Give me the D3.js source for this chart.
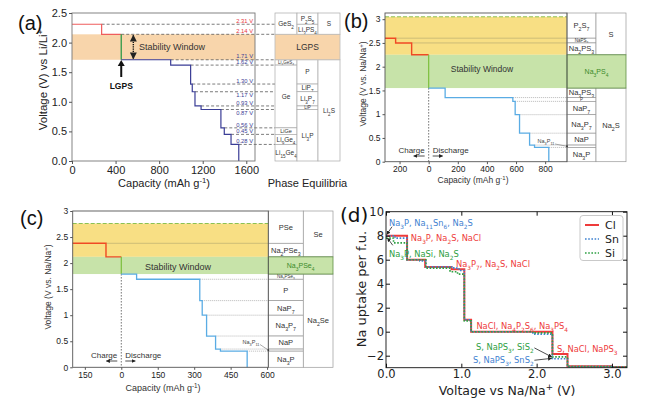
<!DOCTYPE html>
<html>
<head>
<meta charset="utf-8">
<script src="https://cdn.jsdelivr.net/npm/d3@7"></script>
<style>
body { margin: 0; background: #fff; }
svg { display: block; }
</style>
</head>
<body>
<svg id="fig" width="653" height="398"></svg>
<script>
var svg = d3.select("#fig");
var SANS = "Liberation Sans, Arial, sans-serif";
var DEJA = "DejaVu Sans, sans-serif";

// ---------- data: (a) LGPS vs Li ----------
var aRedCap = [0, 272, 452];
var aRedV = [2.31, 2.14];
var aBlueCap = [452, 906, 1089, 1104, 1129, 1185, 1367, 1398, 1460, 1531];
var aBlueV = [1.71, 1.62, 1.30, 1.17, 0.93, 0.87, 0.56, 0.45, 0.28];
var aWindow = [1.71, 2.14];
var aXTicks = [0, 400, 800, 1200, 1600];
var aYTicks = [0, 0.5, 1.0, 1.5, 2.0, 2.5];
// voltage labels that sit under their line
var aLabelsBelow = [1.17, 0.87];
// table columns: null = stability band row
var aGeCuts = [2.14, 1.71, 1.62, 0.56, 0.45, 0.28];
var aGeNames = ["GeS_2", null, "Li_4GeS_4", "Ge", "LiGe", "Li_9Ge_4", "Li_{15}Ge_4"];
var aPCuts = [2.31, 2.14, 1.71, 1.30, 1.17, 0.93, 0.87];
var aPNames = ["P_2S_5", "Li_3PS_4", null, "P", "LiP_7", "Li_3P_7", "LiP", "Li_3P"];
var aSCuts = [2.14, 1.71];
var aSNames = ["S", null, "Li_2S"];

// ---------- data: (b) Na3PS4 ----------
var bRedCap = [-300, -227, -117, 0];
var bRedV = [2.6, 2.5, 2.25];
var bBlueCap = [0, 113, 578, 594, 624, 693, 727, 825];
var bBlueV = [1.55, 1.35, 1.27, 0.99, 0.6, 0.35, 0.30];
var bYellow = [2.25, 3.05];
var bGreen = [1.55, 2.25];
var bXTicks = [-200, 0, 200, 400, 600, 800];
var bYTicks = [0, 0.5, 1, 1.5, 2, 2.5, 3];
var bPCuts = [2.6, 2.5, 2.25, 1.55, 1.35, 1.27, 0.99, 0.6, 0.35, 0.30];
var bPNames = ["P_2S_7", "NaPS_3", "Na_2PS_3", null, "Na_3PS_3", "P", "NaP_7", "Na_3P_7", "NaP", "", "Na_3P"];
var bSCuts = [2.25, 1.55];
var bSNames = ["S", null, "Na_2S"];

// ---------- data: (c) Na3PSe4 ----------
var cRedCap = [-200, -63, 0];
var cRedV = [2.38, 2.12];
var cBlueCap = [0, 63, 323, 333, 351, 388, 408, 518];
var cBlueV = [1.79, 1.69, 1.28, 1.0, 0.6, 0.35, 0.31];
var cYellow = [2.12, 2.76];
var cGreen = [1.79, 2.12];
var cXTicks = [-150, 0, 150, 300, 450, 600];
var cYTicks = [0, 0.5, 1, 1.5, 2, 2.5, 3];
var cPCuts = [2.38, 2.12, 1.79, 1.69, 1.28, 1.0, 0.6, 0.35, 0.31];
var cPNames = ["PSe", "Na_2PSe_3", null, "Na_3PSe_3", "P", "NaP_7", "Na_3P_7", "NaP", "", "Na_3P"];
var cSeCuts = [2.12, 1.79];
var cSeNames = ["Se", null, "Na_2Se"];

// ---------- data: (d) Na uptake ----------
var dClV = [0, 0.28, 0.52, 0.87, 1.04, 1.13, 2.21, 2.41, 3.0, 3.2];
var dClN = [8.0, 6.0, 5.4, 5.2, 1.0, 0.0, -1.85, -2.88, -2.95];
var dSnV = [0, 0.12, 0.28, 0.45, 0.53, 0.9, 0.97, 1.04, 1.13, 1.95, 2.21, 2.41, 3.0, 3.2];
var dSnN = [8.0, 7.8, 6.0, 5.9, 5.4, 5.3, 5.1, 1.0, 0.0, -0.2, -2.25, -2.9, -2.95];
var dSiV = [0, 0.1, 0.28, 0.53, 0.85, 0.95, 1.04, 1.13, 1.95, 2.21, 2.41, 3.0, 3.2];
var dSiN = [7.8, 7.4, 6.0, 5.3, 5.0, 4.8, 0.9, 0.0, -0.1, -2.1, -2.9, -2.95];
var dNames = ["Cl", "Sn", "Si"];
var dXTicks = [0, 1, 2, 3];
var dYTicks = [-2, 0, 2, 4, 6, 8, 10];

// ---------- helpers ----------
var defs = svg.append("defs");
defs.append("marker").attr("id", "ah").attr("viewBox", "0 0 10 10")
  .attr("refX", 9).attr("refY", 5).attr("markerWidth", 5).attr("markerHeight", 5)
  .attr("orient", "auto-start-reverse")
  .append("path").attr("d", "M0,0L10,5L0,10z").attr("fill", "#222");

// text with _sub and ^sup parts
function rich(t, s) {
  var re = /([_^])(?:\{([^}]*)\}|(.))/g, last = 0, m;
  while ((m = re.exec(s)) !== null) {
    if (m.index > last) t.append("tspan").text(s.slice(last, m.index));
    t.append("tspan").attr("baseline-shift", m[1] === "_" ? "sub" : "super")
      .attr("font-size", "70%").text(m[2] != null ? m[2] : m[3]);
    last = re.lastIndex;
  }
  if (last < s.length) t.append("tspan").text(s.slice(last));
  return t;
}

function label(g, x, y, s, size, opts) {
  opts = opts || {};
  var t = g.append("text").attr("x", x).attr("y", y).attr("font-size", size)
    .attr("fill", opts.fill || "#222").attr("text-anchor", opts.anchor || "start");
  if (opts.weight) t.attr("font-weight", opts.weight);
  if (opts.rotate) t.attr("transform", "rotate(-90," + x + "," + y + ")");
  return rich(t, s);
}

function stepPath(x, y, caps, vs, drop) {
  var p = d3.path();
  p.moveTo(x(caps[0]), y(vs[0]));
  for (var i = 0; i < vs.length; i++) {
    if (i > 0) p.lineTo(x(caps[i]), y(vs[i]));
    p.lineTo(x(caps[i + 1]), y(vs[i]));
  }
  if (drop != null) p.lineTo(x(caps[caps.length - 1]), y(drop));
  return p.toString();
}

function hline(g, x1, x2, yy, color, dash, w) {
  var l = g.append("line").attr("x1", x1).attr("x2", x2).attr("y1", yy).attr("y2", yy)
    .attr("stroke", color).attr("stroke-width", w);
  if (dash) l.attr("stroke-dasharray", dash);
  return l;
}

// phase table: one column per element, band row spans all columns
function phaseTable(g, y, cols, top, columns, band, o) {
  columns.forEach(function (c, ci) {
    var edges = [top].concat(c.cuts).concat([0]);
    c.names.forEach(function (nm, j) {
      if (nm === null) return;
      var y0 = y(edges[j]), y1 = y(edges[j + 1]);
      g.append("rect").attr("x", cols[ci]).attr("y", y0)
        .attr("width", cols[ci + 1] - cols[ci]).attr("height", y1 - y0)
        .attr("fill", "#fff").attr("stroke", o.stroke).attr("stroke-width", 0.7);
      if (nm) {
        var fs = Math.min(o.maxFs, Math.max((y1 - y0) * 0.85, o.minFs));
        label(g, (cols[ci] + cols[ci + 1]) / 2, (y0 + y1) / 2 + fs * 0.35, nm, fs,
          {anchor: "middle", fill: "#333"});
      }
    });
  });
  var b0 = y(band.hi), b1 = y(band.lo);
  g.append("rect").attr("x", cols[0]).attr("y", b0)
    .attr("width", cols[cols.length - 1] - cols[0]).attr("height", b1 - b0)
    .attr("fill", band.fill).attr("stroke", band.stroke).attr("stroke-width", 0.8);
  label(g, (cols[0] + cols[cols.length - 1]) / 2, (b0 + b1) / 2 + band.fs * 0.35, band.name, band.fs,
    {anchor: "middle", fill: band.color});
}

function axes(g, x, y, box, xt, yt, xf, yf, fs, tick, pad) {
  var xa = g.append("g").attr("transform", "translate(0," + box.b + ")")
    .call(d3.axisBottom(x).tickValues(xt).tickFormat(xf).tickSize(tick).tickPadding(pad));
  var ya = g.append("g").attr("transform", "translate(" + box.l + ",0)")
    .call(d3.axisLeft(y).tickValues(yt).tickFormat(yf).tickSize(tick).tickPadding(pad));
  [xa, ya].forEach(function (s) {
    s.attr("font-family", null).attr("font-size", fs);
    s.select(".domain").remove();
    s.selectAll("text").attr("fill", "#222");
    s.selectAll("line").attr("stroke", "#555");
  });
  return [xa, ya];
}

function frame(g, box, color) {
  g.append("rect").attr("x", box.l).attr("y", box.t).attr("width", box.r - box.l)
    .attr("height", box.b - box.t).attr("fill", "none").attr("stroke", color).attr("stroke-width", 0.9);
}

// ================= (a) =================
var A = {l: 72, r: 255, t: 13, b: 161};
var ax = d3.scaleLinear().domain([0, 1680]).range([A.l, A.r]);
var ay = d3.scaleLinear().domain([0, 2.5]).range([A.b, A.t]);
var ga = svg.append("g").attr("font-family", SANS);
var aTab = [275, 297, 318, 340];

ga.append("rect").attr("x", A.l).attr("y", ay(aWindow[1])).attr("width", A.r - A.l)
  .attr("height", ay(aWindow[0]) - ay(aWindow[1])).attr("fill", "#f8d5ab");

aRedV.forEach(function (v, i) { hline(ga, ax(aRedCap[i + 1]), aTab[0], ay(v), "#444", "3,2", 0.7); });
aBlueV.forEach(function (v, i) { hline(ga, ax(aBlueCap[i + 1]), aTab[0], ay(v), "#444", "3,2", 0.7); });

ga.append("path").attr("d", stepPath(ax, ay, aRedCap, aRedV, null))
  .attr("fill", "none").attr("stroke", "#ef5d5d").attr("stroke-width", 1.2);
ga.append("line").attr("x1", ax(aRedCap[2])).attr("x2", ax(aRedCap[2]))
  .attr("y1", ay(aRedV[1])).attr("y2", ay(aBlueV[0])).attr("stroke", "#2e9a48").attr("stroke-width", 1.3);
ga.append("path").attr("d", stepPath(ax, ay, aBlueCap, aBlueV, 0))
  .attr("fill", "none").attr("stroke", "#3a3d96").attr("stroke-width", 1.2);

aRedV.concat(aBlueV).forEach(function (v, i) {
  var below = aLabelsBelow.indexOf(v) >= 0;
  label(ga, A.r - 2, below ? ay(v) + 5.3 : ay(v) - 1.3, d3.format(".2f")(v) + " V", 5.8,
    {anchor: "end", fill: i < aRedV.length ? "#e8333a" : "#3a3d96"});
});

// stability window double arrow
ga.append("line").attr("x1", ax(563)).attr("x2", ax(563))
  .attr("y1", ay(aWindow[1]) + 1).attr("y2", ay(aWindow[0]) - 1)
  .attr("stroke", "#111").attr("stroke-width", 1.4).attr("stroke-dasharray", "1.2,1")
  .attr("marker-start", "url(#ah)").attr("marker-end", "url(#ah)");
label(ga, 139, 49.5, "Stability Window", 9, {fill: "#333"});

// LGPS arrow
var lx = ax(aRedCap[2]);
ga.append("line").attr("x1", lx).attr("x2", lx).attr("y1", 77).attr("y2", 65)
  .attr("stroke", "#111").attr("stroke-width", 2);
ga.append("path").attr("d", "M" + (lx - 3.5) + ",66L" + lx + ",60L" + (lx + 3.5) + ",66Z").attr("fill", "#111");
label(ga, lx, 88.5, "LGPS", 8.5, {anchor: "middle", weight: "bold", fill: "#111"});

frame(ga, A, "#777");
axes(ga, ax, ay, A, aXTicks, aYTicks, d3.format("d"), d3.format(".1f"), 11, 3, 2);
label(ga, 164, 187, "Capacity (mAh g^{-1})", 11, {anchor: "middle"});
label(ga, 47, 80, "Voltage (V) vs Li/Li^+", 11.5, {anchor: "middle", rotate: true});
label(ga, 18, 30, "(a)", 20, {fill: "#111"});

phaseTable(ga, ay, aTab, 2.5,
  [{cuts: aGeCuts, names: aGeNames}, {cuts: aPCuts, names: aPNames}, {cuts: aSCuts, names: aSNames}],
  {lo: aWindow[0], hi: aWindow[1], fill: "#f8d5ab", stroke: "#bbb", name: "LGPS", fs: 8.5, color: "#333"},
  {stroke: "#aaa", maxFs: 6.5, minFs: 4.5});
label(ga, 307.5, 187, "Phase Equilibria", 11, {anchor: "middle"});

// ================= (b) and (c) shared drawing =================
function naPanel(o) {
  var g = o.g, x = o.x, y = o.y, B = o.box;
  g.append("rect").attr("x", B.l).attr("width", B.r - B.l).attr("y", y(o.yellow[1]))
    .attr("height", y(o.yellow[0]) - y(o.yellow[1])).attr("fill", "#f8df84");
  g.append("rect").attr("x", B.l).attr("width", B.r - B.l).attr("y", y(o.green[1]))
    .attr("height", y(o.green[0]) - y(o.green[1])).attr("fill", "#c7e3a9");
  hline(g, B.l, B.r, y(o.yellow[1]), "#8cc152", "4,2", 1);
  o.redV.forEach(function (v, i) {
    if (i < o.redV.length - 1) hline(g, x(o.redCap[i + 1]), B.r, y(v), "#a39a6a", null, 0.5);
  });
  o.blueV.forEach(function (v, i) {
    if (i > 0) hline(g, x(o.blueCap[i + 1]), B.r, y(v), "#888", "1,1", 0.6);
  });
  g.append("line").attr("x1", x(0)).attr("x2", x(0)).attr("y1", y(o.blueV[0])).attr("y2", y(0))
    .attr("stroke", "#333").attr("stroke-width", 0.7).attr("stroke-dasharray", "1.5,1.5");
  g.append("path").attr("d", stepPath(x, y, o.redCap, o.redV, null))
    .attr("fill", "none").attr("stroke", "#ef4a24").attr("stroke-width", 1.4);
  g.append("line").attr("x1", x(0)).attr("x2", x(0)).attr("y1", y(o.redV[o.redV.length - 1]))
    .attr("y2", y(o.blueV[0])).attr("stroke", "#7cbf3c").attr("stroke-width", 1.2);
  g.append("path").attr("d", stepPath(x, y, o.blueCap, o.blueV, 0))
    .attr("fill", "none").attr("stroke", "#5aace4").attr("stroke-width", 1.3);

  label(g, o.swX, o.swY, "Stability Window", o.swFs, {anchor: "middle", fill: "#333"});

  phaseTable(g, y, o.cols, y.domain()[1], o.columns,
    {lo: o.green[0], hi: o.green[1], fill: "#c7e3a9", stroke: "#5f8f45", name: o.bandName, fs: 7, color: "#3b8a2a"},
    {stroke: "#999", maxFs: 7.5, minFs: 4.5});
  frame(g, B, "#555");

  axes(g, x, y, B, o.xTicks, o.yTicks, function (d) { return Math.abs(d); },
    function (d) { return String(d); }, 8.5, 2.5, 2);

  // charge / discharge
  var z = x(0);
  label(g, z - 4, o.chY, "Charge", 8, {anchor: "end", fill: "#333"});
  label(g, z + 4, o.chY, "Discharge", 8, {fill: "#333"});
  g.append("line").attr("x1", z - 4).attr("x2", z - 15).attr("y1", o.chY + 3.5).attr("y2", o.chY + 3.5)
    .attr("stroke", "#222").attr("stroke-width", 0.8).attr("marker-end", "url(#ah)");
  g.append("line").attr("x1", z + 4).attr("x2", z + 14).attr("y1", o.chY + 3.5).attr("y2", o.chY + 3.5)
    .attr("stroke", "#222").attr("stroke-width", 0.8).attr("marker-end", "url(#ah)");

  // Na3P11 pointer
  label(g, o.p11.x, o.p11.y, "Na_3P_{11}", 5.5, {anchor: "middle", fill: "#444"});
  g.append("line").attr("x1", o.p11.x + 9).attr("y1", o.p11.y + 1).attr("x2", B.r).attr("y2", y(o.p11.v))
    .attr("stroke", "#555").attr("stroke-width", 0.5);
  g.append("circle").attr("cx", B.r).attr("cy", y(o.p11.v)).attr("r", 0.9).attr("fill", "#333");
}

// ================= (b) =================
var B = {l: 385, r: 567, t: 13, b: 161.7};
var bx = d3.scaleLinear().domain([-300, 950]).range([B.l, B.r]);
var by = d3.scaleLinear().domain([0, 3.13]).range([B.b, B.t]);
var gb = svg.append("g").attr("font-family", SANS);
naPanel({g: gb, x: bx, y: by, box: B, redCap: bRedCap, redV: bRedV, blueCap: bBlueCap, blueV: bBlueV,
  yellow: bYellow, green: bGreen, xTicks: bXTicks, yTicks: bYTicks, cols: [567, 596, 626],
  columns: [{cuts: bPCuts, names: bPNames}, {cuts: bSCuts, names: bSNames}],
  bandName: "Na_3PS_4", swX: 482, swY: 72, swFs: 8.5, chY: 152.5,
  p11: {x: 546, y: 143, v: 0.325}});
label(gb, 473, 183, "Capacity (mAh g^{-1})", 8.5, {anchor: "middle", fill: "#333"});
label(gb, 366, 84, "Voltage (V vs. Na/Na^+)", 8.5, {anchor: "middle", rotate: true, fill: "#333"});
label(gb, 344, 28, "(b)", 20, {fill: "#111"});

// ================= (c) =================
var C = {l: 72.7, r: 268.3, t: 211, b: 367.3};
var cx = d3.scaleLinear().domain([-200, 605]).range([C.l, C.r]);
var cy = d3.scaleLinear().domain([0, 3]).range([C.b, C.t]);
var gc = svg.append("g").attr("font-family", SANS);
naPanel({g: gc, x: cx, y: cy, box: C, redCap: cRedCap, redV: cRedV, blueCap: cBlueCap, blueV: cBlueV,
  yellow: cYellow, green: cGreen, xTicks: cXTicks, yTicks: cYTicks, cols: [268.3, 303.3, 333],
  columns: [{cuts: cPCuts, names: cPNames}, {cuts: cSeCuts, names: cSeNames}],
  bandName: "Na_3PSe_4", swX: 178, swY: 269.5, swFs: 9, chY: 357.5,
  p11: {x: 251, y: 343.5, v: 0.33}});
label(gc, 163, 391, "Capacity (mAh g^{-1})", 9, {anchor: "middle", fill: "#333"});
label(gc, 51, 287, "Voltage (V vs. Na/Na^+)", 8.5, {anchor: "middle", rotate: true, fill: "#333"});
label(gc, 20, 225, "(c)", 20, {fill: "#111"});

// ================= (d) =================
var D = {l: 386, r: 627, t: 211.7, b: 367.7};
var dx = d3.scaleLinear().domain([0, 3.2]).range([D.l, D.r]);
var dy = d3.scaleLinear().domain([-3, 10]).range([D.b, D.t]);
var gd = svg.append("g").attr("font-family", DEJA);
var dCols = ["#ee3b3b", "#3f82d1", "#2ea043"];

gd.append("clipPath").attr("id", "dclip").append("rect")
  .attr("x", D.l).attr("y", D.t).attr("width", D.r - D.l).attr("height", D.b - D.t);
var lines = gd.append("g").attr("clip-path", "url(#dclip)");
lines.append("path").attr("d", stepPath(dx, dy, dClV, dClN, null))
  .attr("fill", "none").attr("stroke", dCols[0]).attr("stroke-width", 2);
lines.append("path").attr("d", stepPath(dx, dy, dSnV, dSnN, null))
  .attr("fill", "none").attr("stroke", dCols[1]).attr("stroke-width", 1.6).attr("stroke-dasharray", "1.6,1.6");
lines.append("path").attr("d", stepPath(dx, dy, dSiV, dSiN, null))
  .attr("fill", "none").attr("stroke", dCols[2]).attr("stroke-width", 1.6).attr("stroke-dasharray", "1.6,1.6");

frame(gd, D, "#111");
var dAx = axes(gd, dx, dy, D, dXTicks, dYTicks, d3.format(".1f"), d3.format("d"), 11.5, -4, 2);
dAx.forEach(function (s) { s.selectAll("line").attr("stroke", "#111"); });
gd.append("g").attr("transform", "translate(" + D.r + ",0)")
  .call(d3.axisRight(dy).tickValues(dYTicks).tickFormat("").tickSize(-4))
  .call(function (s) { s.select(".domain").remove(); s.selectAll("line").attr("stroke", "#111"); });
gd.append("g").attr("transform", "translate(0," + D.t + ")")
  .call(d3.axisTop(dx).tickValues(dXTicks).tickFormat("").tickSize(-4))
  .call(function (s) { s.select(".domain").remove(); s.selectAll("line").attr("stroke", "#111"); });

label(gd, 507, 394.5, "Voltage vs Na/Na^+  (V)", 12.5, {anchor: "middle", fill: "#222"});
label(gd, 366, 289, "Na uptake per f.u.", 13, {anchor: "middle", rotate: true, fill: "#222"});
label(gd, 340, 222, "(d)", 20, {fill: "#111"});

// annotations
var nf = 8.3;
label(gd, dx(0.04), dy(8.83), "Na_3P, Na_{11}Sn_6, Na_2S", nf, {fill: dCols[1]});
label(gd, dx(0.33), dy(7.58), "Na_3P, Na_2S, NaCl", nf, {fill: dCols[0]});
label(gd, dx(0.04), dy(6.22), "Na_3P, NaSi, Na_2S", nf, {fill: dCols[2]});
label(gd, dx(0.93), dy(5.37), "Na_3P_7, Na_2S, NaCl", nf, {fill: dCols[0]});
label(gd, dx(1.20), dy(0.22), "NaCl, Na_4P_2S_6, Na_3PS_4", nf, {fill: dCols[0]});
label(gd, dx(2.27), dy(-1.72), "S, NaCl, NaPS_3", nf, {fill: dCols[0]});
label(gd, dx(1.96), dy(-1.5), "S, NaPS_3, SiS_2", nf, {fill: dCols[2], anchor: "end"});
label(gd, dx(1.96), dy(-2.6), "S, NaPS_3, SnS_2", nf, {fill: dCols[1], anchor: "end"});

function arrow(g, x1, y1, x2, y2) {
  g.append("line").attr("x1", x1).attr("y1", y1).attr("x2", x2).attr("y2", y2)
    .attr("stroke", "#222").attr("stroke-width", 0.8).attr("marker-end", "url(#ah)");
}
arrow(gd, dx(0.08), dy(8.75), dx(0.01), dy(8.1));
arrow(gd, dx(0.09), dy(7.2), dx(0.02), dy(7.8));
arrow(gd, dx(1.97), dy(-1.35), dx(2.2), dy(-2.1));
arrow(gd, dx(1.97), dy(-2.38), dx(2.2), dy(-2.22));

// legend
var lg = gd.append("g");
lg.append("rect").attr("x", 580).attr("y", 215.5).attr("width", 43).attr("height", 45)
  .attr("rx", 3).attr("fill", "#fff").attr("stroke", "#bbb").attr("stroke-width", 0.8);
dNames.forEach(function (nm, i) {
  var yy = 225 + i * 14;
  var l = lg.append("line").attr("x1", 585).attr("x2", 599).attr("y1", yy).attr("y2", yy)
    .attr("stroke", dCols[i]).attr("stroke-width", i === 0 ? 2 : 1.6);
  if (i > 0) l.attr("stroke-dasharray", "1.6,1.6");
  label(lg, 605, yy + 4, nm, 11, {fill: "#222"});
});
</script>
</body>
</html>
